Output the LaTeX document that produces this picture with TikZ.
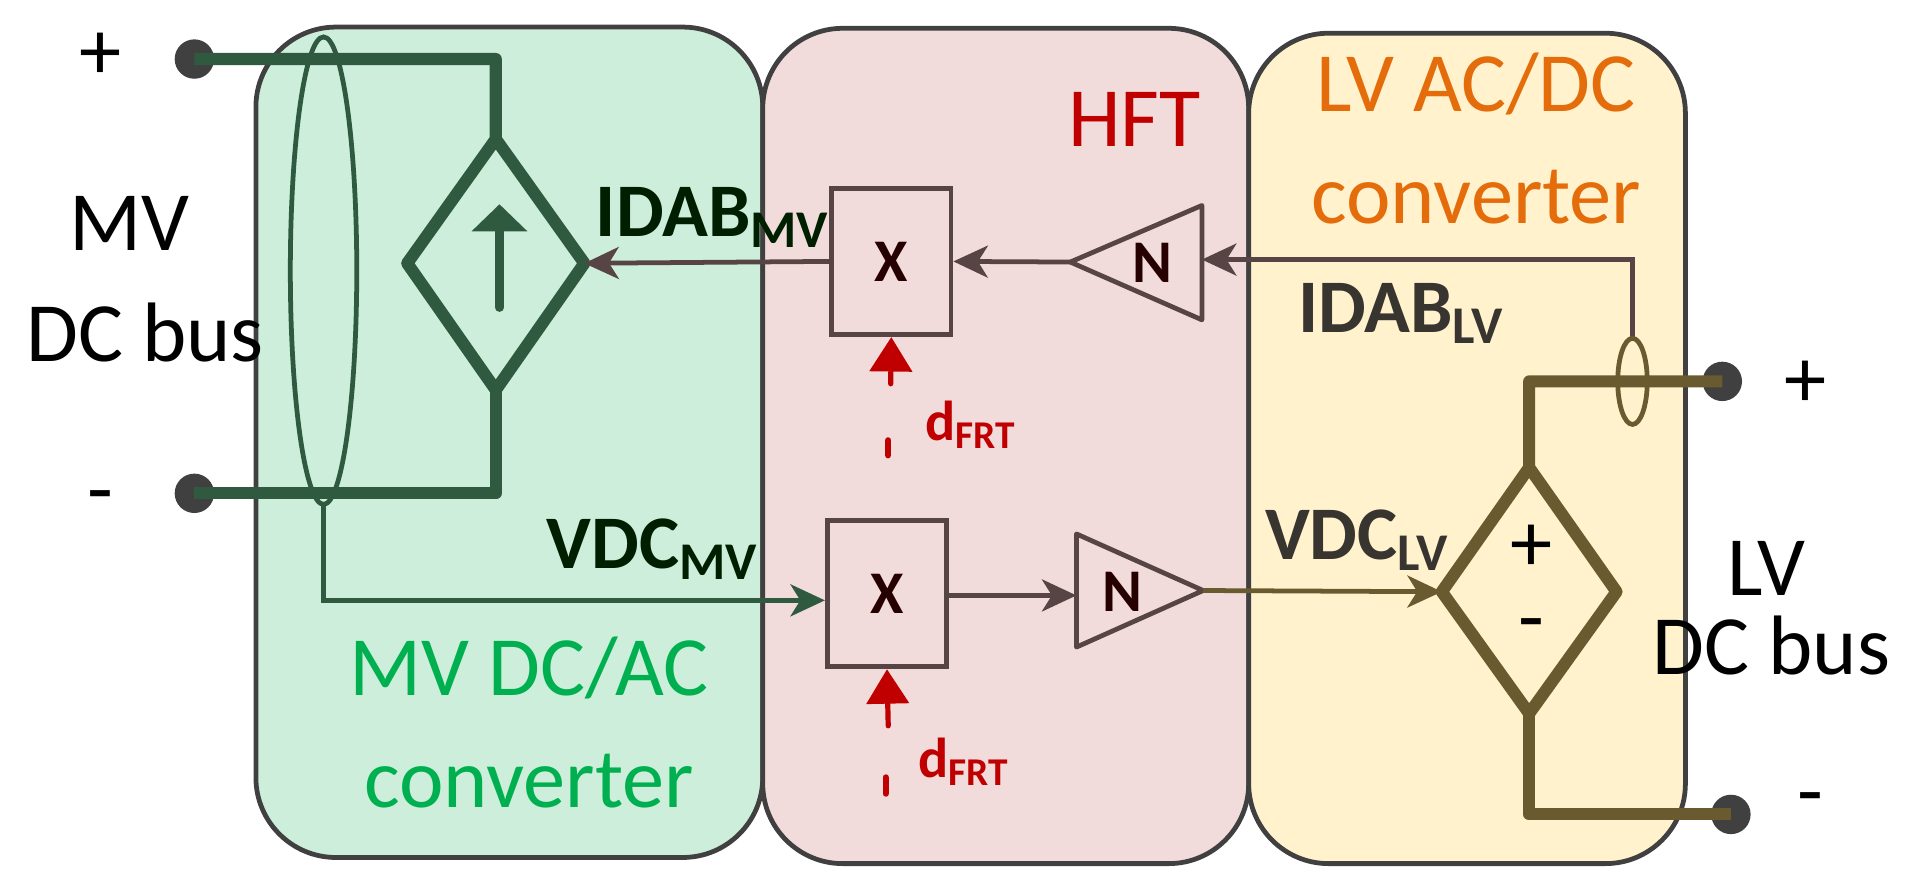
\documentclass[tikz,border=0pt]{standalone}
\usepackage{fontspec}
\setmainfont{Carlito}
\usetikzlibrary{arrows.meta}
\definecolor{bord}{HTML}{404040}
\definecolor{gfill}{HTML}{CCEEDB}
\definecolor{pfill}{HTML}{F2DCDB}
\definecolor{yfill}{HTML}{FFF2CC}
\definecolor{dgreen}{HTML}{2F5A40}
\definecolor{brown}{HTML}{574545}
\definecolor{olive}{HTML}{695A30}
\definecolor{dred}{HTML}{C00000}
\definecolor{orng}{HTML}{E46C0A}
\definecolor{grn}{HTML}{00B050}
\definecolor{term}{HTML}{404040}
\begin{document}
\begin{tikzpicture}[x=0.01cm,y=-0.01cm,
  panel/.style={draw=bord,line width=1.1pt,rounded corners=0.65cm},
  termc/.style={circle,fill=term,minimum size=0.32cm,inner sep=0},
  big/.style={font=\fontsize{19.5}{21}\selectfont},
  lbl/.style={font=\fontsize{17.5}{19}\selectfont\bfseries},
  blk/.style={draw=brown,line width=1.1pt,minimum width=0.97cm,minimum height=1.19cm,font=\fontsize{14}{15}\selectfont\bfseries,text=black!85!red},
  arr/.style={-{Stealth[length=0.28cm,width=0.26cm,inset=0.08cm]}},
  thin/.style={line width=1.1pt},
  heavy/.style={line width=2.8pt,line join=round},
  red/.style={draw=dred,line width=1.2pt}]
\useasboundingbox (0,0) rectangle (1568,727);
\draw[panel,fill=gfill] (208,22) rectangle (620,697);
\draw[panel,fill=pfill] (620,23) rectangle (1015,702);
\draw[panel,fill=yfill] (1015,27) rectangle (1370,702);
% titles
\node[big,text=dred] (hft) at (922,97) {HFT};
\node[big,text=orng] (lvt1) at (1200,68) {LV AC/DC};
\node[big,text=orng] (lvt2) at (1200,160) {converter};
\node[big,text=grn] (mvt1) at (430,543) {MV DC/AC};
\node[big,text=grn] (mvt2) at (430,635) {converter};
% MV side
\node[termc] (mp) at (158,48) {};
\node[termc] (mm) at (158,401) {};
\node[big] (plus1) at (82,46) {+};
\node[big] (minus1) at (82,410) {-};
\node[big] (mv1) at (105,182) {MV};
\node[big] (mv2) at (118,270) {DC bus};
\coordinate (dt) at (403,113); \coordinate (dl) at (331,214);
\coordinate (dr) at (475,214); \coordinate (db) at (403,317);
\draw[dgreen,heavy] (mp.center) -- (403,48) -- (dt) -- (dl) -- (db) -- (dr) -- (dt);
\draw[dgreen,heavy] (db) -- (403,401) -- (mm.center);
\draw[dgreen,line width=2pt,line cap=round,-{Triangle[length=0.22cm,width=0.44cm]}] (406,250) -- (406,166);
\draw[dgreen,thin] (263,220) ellipse [x radius=27,y radius=190];
% HFT blocks
\node[blk] (x1) at (724.5,212.5) {X};
\node[blk] (x2) at (721,482.5) {X};
\coordinate (n1tip) at (870,213);
\draw[brown,thin,line join=round] (n1tip) -- (977,167) -- (977,260) -- cycle;
\node[font=\fontsize{14}{15}\selectfont\bfseries,text=black!85!red] (n1) at (937,214) {N};
\coordinate (n2l) at (875,484); \coordinate (n2tip) at (978,480);
\draw[brown,thin,line join=round] (n2tip) -- (875,434) -- (875,526) -- cycle;
\node[font=\fontsize{14}{15}\selectfont\bfseries,text=black!85!red] (n2) at (912,481) {N};
% connectors
\draw[brown,thin,arr] (x1.west) -- (dr);
\draw[brown,thin,arr] (n1tip) -- (x1.east);
\coordinate (lvs) at (1327,275);
\draw[brown,thin,arr] (lvs) -- (1327,211) -- (977,211);
\draw[dgreen,thin,arr] (263,410) -- (263,488) -- (x2.west|-0,488);
\draw[brown,thin,arr] (x2.east|-0,484) -- (n2l);
\draw[olive,thin,arr] (n2tip) -- (1172,481);
% labels
\node[lbl,text=black!70!green!40!black,anchor=base west] (idabmv) at (472,192) {IDAB\textsubscript{MV}};
\node[lbl,text=black!70!green!40!black,anchor=base west] (vdcmv) at (432,462) {VDC\textsubscript{MV}};
\node[lbl,text=black!80!yellow!50!black,anchor=base west] (idablv) at (1043,270) {IDAB\textsubscript{LV}};
\node[lbl,text=black!80!yellow!50!black,anchor=base west] (vdclv) at (1016,455) {VDC\textsubscript{LV}};
% dFRT
\draw[red,line cap=round,-{Triangle[length=0.28cm,width=0.34cm]}] (724,312) -- (x1.south);
\draw[red,line width=1.5pt,line cap=round] (722,358) -- (722,370);
\node[text=dred,font=\fontsize{13}{14}\selectfont\bfseries,anchor=base west] (d1) at (740,358) {d\textsubscript{FRT}};
\draw[red,line cap=round,-{Triangle[length=0.28cm,width=0.34cm]}] (722,590) -- (x2.south);
\draw[red,line width=1.5pt,line cap=round] (720,632) -- (720,645);
\node[text=dred,font=\fontsize{13}{14}\selectfont\bfseries,anchor=base west] (d2) at (734,632) {d\textsubscript{FRT}};
% LV side
\node[termc] (lp) at (1400,310) {};
\node[termc] (lm) at (1407,662) {};
\node[big] (plus2) at (1468,312) {+};
\node[big] (minus2) at (1472,655) {-};
\node[big] (lv1) at (1436,462) {LV};
\node[big] (lv2) at (1440,525) {DC bus};
\coordinate (et) at (1243,380); \coordinate (el) at (1172,481);
\coordinate (er) at (1314,481); \coordinate (eb) at (1243,580);
\draw[olive,heavy] (lp.center) -- (1243,310) -- (et) -- (el) -- (eb) -- (er) -- (et);
\draw[olive,heavy] (eb) -- (1243,662) -- (lm.center);
\node[big,inner sep=0] (dplus) at (1245,446) {+};
\node[big,inner sep=0] (dminus) at (1245,514) {-};
\draw[olive,thin] (1327,310) ellipse [x radius=12,y radius=35];
\end{tikzpicture}
\end{document}
